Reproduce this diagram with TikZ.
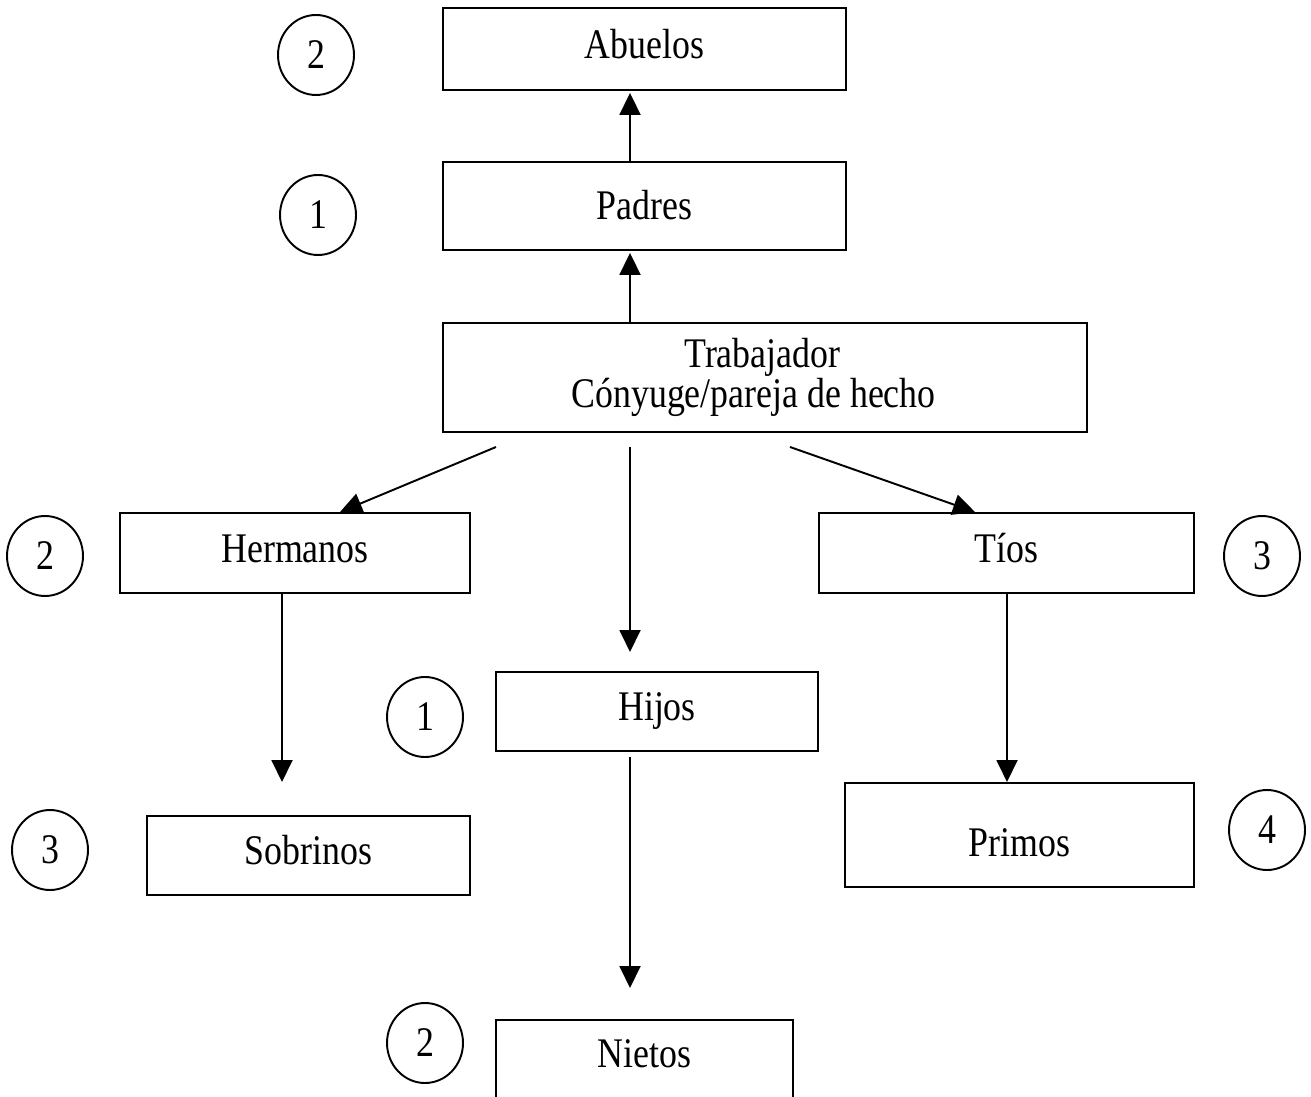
\documentclass[tikz,border=0pt]{standalone}
\usepackage{fontspec}
\setmainfont{Liberation Serif}[FakeStretch=0.85]
\usetikzlibrary{arrows.meta,shapes.geometric}
\newcommand\boxtxt[2]{\raisebox{#1}[0pt][0pt]{#2}}
\begin{document}
\begin{tikzpicture}[x=0.02cm,y=-0.02cm,
  every node/.style={font=\fontsize{24}{23}\selectfont},
  box/.style={draw,line width=1.1pt,inner sep=0pt,align=center},
  num/.style={draw,ellipse,line width=1.1pt,inner sep=0pt,minimum width=1.52cm,minimum height=1.6cm},
  arr/.style={line width=1.1pt,-{Triangle[length=0.44cm,width=0.42cm]}}]
\clip (0,0) rectangle (1311,1097);
\fill[white] (0,0) rectangle (1311,1097);
% boxes
\node[box,minimum width=8.06cm,minimum height=1.64cm] (abuelos) at (644.5,49) {\boxtxt{-5.4pt}{Abuelos}};
\node[box,minimum width=8.06cm,minimum height=1.76cm] (padres) at (644.5,206) {\boxtxt{-7.6pt}{Padres}};
\node[box,minimum width=12.88cm,minimum height=2.18cm] (trab) at (765,377.5) {Trabajador\hspace*{3pt}\\Cónyuge/pareja de hecho\hspace*{13pt}};
\node[box,minimum width=7.0cm,minimum height=1.6cm] (herm) at (295,553) {\boxtxt{-5.4pt}{Hermanos}};
\node[box,minimum width=7.5cm,minimum height=1.6cm] (tios) at (1006.5,553) {\boxtxt{-5.4pt}{Tíos}};
\node[box,minimum width=6.44cm,minimum height=1.58cm] (hijos) at (657,711.5) {\boxtxt{-5.1pt}{Hijos}};
\node[box,minimum width=6.46cm,minimum height=1.58cm] (sobr) at (308.5,855.5) {\boxtxt{-5.1pt}{Sobrinos}};
\node[box,minimum width=6.98cm,minimum height=2.08cm] (primos) at (1019.5,835) {\boxtxt{-12.2pt}{Primos}};
\node (nietos) at (644.5,1053) {\boxtxt{-8.2pt}{Nietos}};
\draw[line width=1.1pt] (496,1110) coordinate (n1) -- (496,1020) coordinate (n2) -- (793,1020) coordinate (n3) -- (793,1110) coordinate (n4);
% circles
\node[num] (c2a) at (316,55) {2};
\node[num] (c1a) at (318,215) {1};
\node[num] (c2h) at (45,556) {2};
\node[num] (c3t) at (1262,556) {3};
\node[num] (c1h) at (425,717) {1};
\node[num] (c3s) at (50,850) {3};
\node[num] (c4p) at (1267,830) {4};
\node[num] (c2n) at (425,1043) {2};
% connector ends
\coordinate (tl) at (496,447);
\coordinate (tc) at (630,447);
\coordinate (tr) at (790,447);
\coordinate (hijtip) at (630,652);
\coordinate (sobtip) at (282,782);
\coordinate (primtip) at (1007,782);
\coordinate (niettip) at (630,988);
\coordinate (hijbot) at (630,757);
% arrows
\draw[arr] (padres.north -| 630,0) -- ([yshift=-0.04cm]abuelos.south -| 630,0);
\draw[arr] (trab.north -| 630,0) -- ([yshift=-0.04cm]padres.south -| 630,0);
\draw[arr] (tl) -- (herm.north -| 340,0);
\draw[arr] (tc) -- (hijtip);
\draw[arr] (tr) -- (tios.north -| 975,0);
\draw[arr] (herm.south -| 282,0) -- (sobtip);
\draw[arr] (tios.south -| 1007,0) -- (primtip);
\draw[arr] (hijbot) -- (niettip);
\end{tikzpicture}
\end{document}
